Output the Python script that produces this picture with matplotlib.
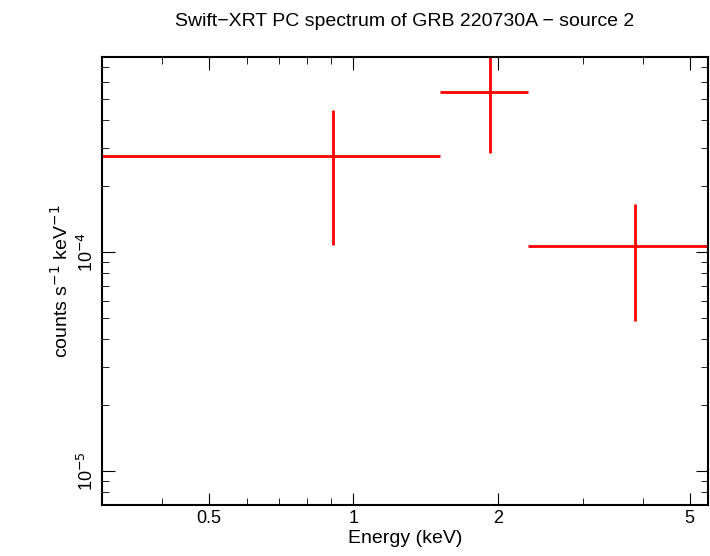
import matplotlib
matplotlib.use("Agg")
import matplotlib.pyplot as plt
from matplotlib.ticker import FixedLocator, FixedFormatter, NullFormatter

plt.rcParams["font.family"] = "Liberation Sans"

# spectral bins (keV) and rates (counts s^-1 keV^-1)
energy = [0.905, 1.92, 3.85]
e_lo = [0.30, 1.516, 2.31]
e_hi = [1.516, 2.31, 6.0]
rate = [2.74e-4, 5.38e-4, 1.065e-4]
rate_lo = [1.076e-4, 2.83e-4, 4.84e-5]
rate_hi = [4.45e-4, 9.0e-4, 1.66e-4]

xerr = [[e - l for e, l in zip(energy, e_lo)], [h - e for e, h in zip(energy, e_hi)]]
yerr = [[r - l for r, l in zip(rate, rate_lo)], [h - r for r, h in zip(rate, rate_hi)]]

fig = plt.figure(figsize=(7.1, 5.56), dpi=100)
ax = fig.add_axes([102 / 710, 1 - 505 / 556, 606 / 710, 448 / 556])

ax.errorbar(energy, rate, xerr=xerr, yerr=yerr, fmt="none", ecolor="red", elinewidth=2, capsize=0)

ax.set_xscale("log")
ax.set_yscale("log")
ax.set_xlim(0.3, 5.46)
ax.set_ylim(7.0e-6, 7.77e-4)

ax.xaxis.set_major_locator(FixedLocator([0.5, 1, 2, 5]))
ax.xaxis.set_major_formatter(FixedFormatter(["0.5", "1", "2", "5"]))
ax.xaxis.set_minor_formatter(NullFormatter())
ax.yaxis.set_major_locator(FixedLocator([1e-5, 1e-4]))
ax.yaxis.set_major_formatter(FixedFormatter([r"10$^{-5}$", r"10$^{-4}$"]))
ax.yaxis.set_minor_formatter(NullFormatter())
for lab in ax.get_yticklabels():
    lab.set_rotation(90)
    lab.set_va("center")

ax.tick_params(which="both", direction="in", top=True, right=True, labelsize=13)
ax.tick_params(which="major", length=9)
ax.tick_params(which="minor", length=5)
for s in ax.spines.values():
    s.set_linewidth(1.5)

ax.set_xlabel("Energy (keV)", fontsize=14, labelpad=2)
ax.set_ylabel(r"counts s$^{-1}$ keV$^{-1}$", fontsize=14)
ax.set_title("Swift\u2212XRT PC spectrum of GRB 220730A \u2212 source 2", fontsize=14, pad=22)

fig.savefig("out.png", dpi=100)
